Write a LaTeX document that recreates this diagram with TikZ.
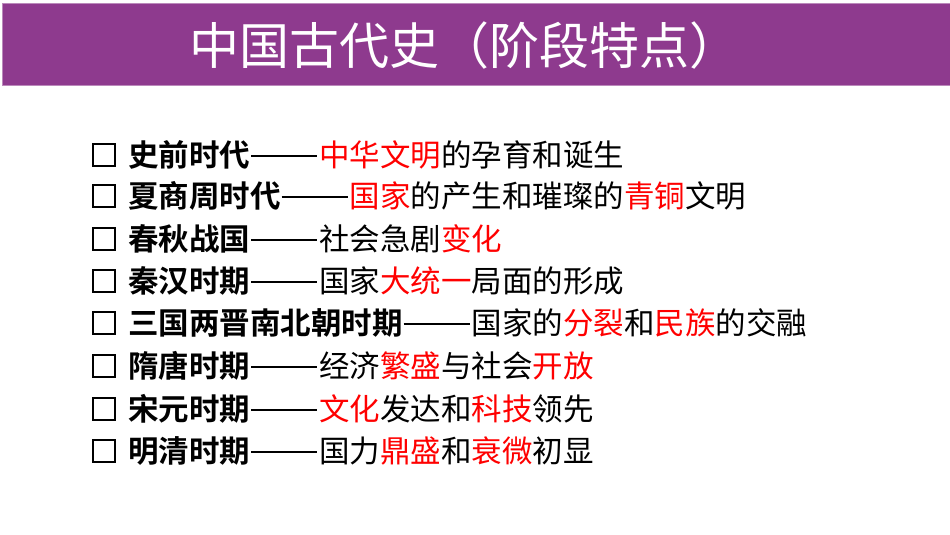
\documentclass[tikz,border=0pt]{standalone}
\usepackage{fontspec}
\newfontfamily\cjk{Noto Sans CJK SC}
\newfontfamily\cjkb{Noto Sans CJK SC Bold}
\definecolor{band}{HTML}{8E3A8E}
\definecolor{rd}{HTML}{FF0000}
\newcommand\dsh{\hspace{1pt}\rule[0.32em]{66pt}{1.6pt}\hspace{2pt}}
\begin{document}
\begin{tikzpicture}[x=1pt,y=-1pt,
  item/.style={anchor=west,inner sep=0pt,font=\cjk\fontsize{30.5}{32}\selectfont},
  cb/.style={draw,line width=1.8pt,minimum size=22pt,inner sep=0pt}]
\useasboundingbox (0,0) rectangle (950,535);
\fill[white] (0,0) rectangle (950,535);
\fill[band] (2,3) rectangle (950,85);
\draw[band!60,line width=0.8pt] (2,3) rectangle (950,85);
\node[text=white,font=\cjk\fontsize{50}{54}\selectfont] (title) at (464,46) {中国古代史（阶段特点）};
\foreach \y/\t [count=\i] in {
 155/{{\cjkb 史前时代}\dsh\textcolor{rd}{中华文明}的孕育和诞生},
 196/{{\cjkb 夏商周时代}\dsh\textcolor{rd}{国家}的产生和璀璨的\textcolor{rd}{青铜}文明},
 239/{{\cjkb 春秋战国}\dsh 社会急剧\textcolor{rd}{变化}},
 281/{{\cjkb 秦汉时期}\dsh 国家\textcolor{rd}{大统一}局面的形成},
 323/{{\cjkb 三国两晋南北朝时期}\dsh 国家的\textcolor{rd}{分裂}和\textcolor{rd}{民族}的交融},
 366/{{\cjkb 隋唐时期}\dsh 经济\textcolor{rd}{繁盛}与社会\textcolor{rd}{开放}},
 409/{{\cjkb 宋元时期}\dsh\textcolor{rd}{文化}发达和\textcolor{rd}{科技}领先},
 451/{{\cjkb 明清时期}\dsh 国力\textcolor{rd}{鼎盛}和\textcolor{rd}{衰微}初显}}{
 \node[cb] (b\i) at (104,\y) {};
 \node[item] (t\i) at (128,\y) {\t};
}
\end{tikzpicture}
\end{document}
